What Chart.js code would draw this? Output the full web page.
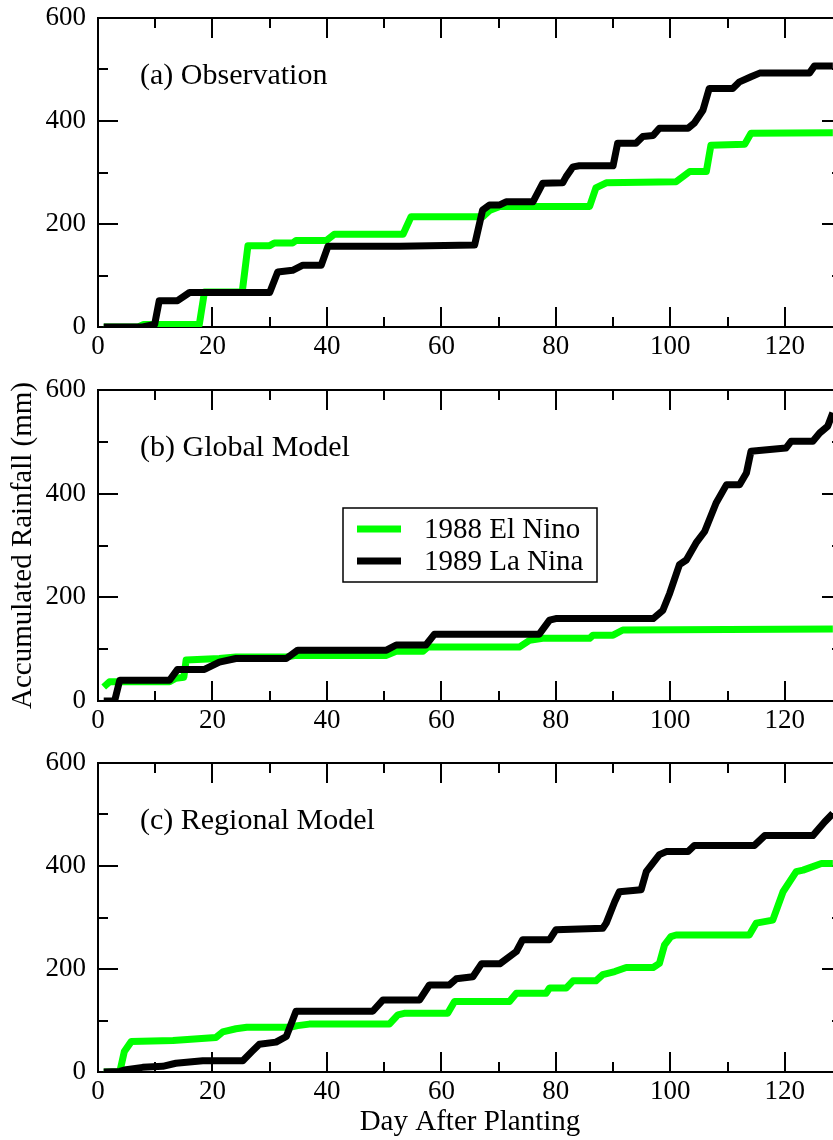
<!DOCTYPE html>
<html>
<head>
<meta charset="utf-8">
<title>Accumulated Rainfall</title>
<script src="https://cdn.jsdelivr.net/npm/chart.js@4.4.1/dist/chart.umd.min.js"></script>
<style>
  html, body { margin: 0; padding: 0; background: #fff; overflow: hidden; }
  body { width: 833px; height: 1140px; position: relative; }
  canvas { position: absolute; left: 0; }
</style>
</head>
<body>
<canvas id="panelA"></canvas>
<canvas id="panelB"></canvas>
<canvas id="panelC"></canvas>
<script>
"use strict";

const seriesNames = ["1988 El Nino", "1989 La Nina"];
const panelTitles = ["(a) Observation", "(b) Global Model", "(c) Regional Model"];
const xTickValues = [0, 20, 40, 60, 80, 100, 120];
const yTickValues = [0, 200, 400, 600];

// (a) observation
const obsElNinoDays = [1, 7, 8, 12, 17.7, 18.6, 25.2, 26.2, 30, 30.8, 34, 34.6, 39.9, 41.3, 53.3, 54.7, 67.2, 68.4, 70.2, 85.9, 87, 88.8, 101, 103.4, 106.3, 107.1, 113, 114.1, 128.4];
const obsElNinoRain = [0, 0, 5, 5, 5, 68, 68, 158, 158, 163, 163, 168, 168, 180, 180, 214, 214, 226, 234, 234, 270, 280, 282, 302, 302, 353, 355, 376, 377];
const obsLaNinaDays = [1, 7.8, 9.9, 10.7, 13.9, 16, 30, 31.4, 34, 35.8, 39, 40.2, 52.7, 65.8, 67.2, 68.4, 70.2, 71.3, 76, 77.7, 81.2, 81.8, 83, 84.1, 90, 90.8, 94, 95.2, 97, 98.1, 103.1, 104.2, 105.7, 106.8, 110.9, 112.1, 114.1, 115.6, 124.3, 125.2, 128.4];
const obsLaNinaRain = [0, 0, 5, 51, 51, 67, 67, 107, 110, 120, 120, 157, 157, 159, 227, 237, 237, 243, 243, 279, 280, 292, 311, 313, 313, 357, 357, 370, 372, 386, 386, 396, 421, 463, 463, 476, 486, 493, 493, 507, 507];

// (b) global model
const globElNinoDays = [1, 2, 12.5, 13.6, 15, 15.4, 21.2, 24.1, 32.9, 34.6, 50.4, 52.1, 56.8, 57.6, 73.6, 75.4, 77.7, 85.9, 86.5, 90, 91.7, 128.4];
const globElNinoRain = [27, 37, 37, 44, 46, 79, 82, 85, 85, 88, 88, 96, 96, 104, 104, 117, 121, 121, 127, 127, 137, 139];
const globLaNinaDays = [1, 2.9, 3.8, 12.5, 13.9, 18.6, 21.2, 24.1, 32.9, 34.9, 50.4, 52.1, 57.3, 58.8, 77.1, 78.9, 80, 97, 98.7, 99.9, 101.6, 102.8, 104.5, 106, 108, 109.8, 112.1, 113.3, 114.1, 120.2, 121.1, 124.9, 126.1, 127.5, 128.4];
const globLaNinaRain = [0, 0, 40, 40, 61, 61, 75, 82, 82, 98, 98, 108, 108, 129, 129, 156, 159, 159, 175, 208, 263, 272, 305, 327, 382, 417, 417, 440, 482, 488, 501, 501, 517, 530, 556];

// (c) regional model
const regElNinoDays = [1, 3.8, 4.6, 5.8, 13.1, 20.6, 21.8, 24.1, 26, 33.5, 34.9, 36.9, 50.9, 52.4, 53.5, 61.1, 62.3, 71.9, 73.1, 78.3, 78.9, 81.8, 83, 87, 88.2, 90.3, 92.3, 97, 98.1, 99, 100.1, 101, 113.8, 115, 117.9, 119.7, 122, 123.2, 126.4, 128.4];
const regElNinoRain = [0, 0, 40, 59, 61, 67, 78, 84, 87, 87, 90, 93, 93, 111, 114, 114, 137, 137, 153, 153, 163, 163, 177, 177, 189, 195, 203, 203, 211, 247, 263, 266, 266, 289, 295, 350, 389, 392, 405, 405];
const regLaNinaDays = [1, 3.8, 4.9, 7.8, 11.3, 13.6, 18.3, 25.3, 27, 28.2, 31.1, 32.9, 34.6, 48, 49.8, 56.2, 57.9, 61.4, 62.6, 65.5, 67, 70.2, 73.1, 74.2, 78.9, 80, 88.2, 88.8, 90.3, 91.1, 94.9, 95.8, 98.1, 99.3, 103.1, 104.2, 114.7, 116.5, 124.9, 127, 128.4];
const regLaNinaRain = [0, 1, 4.5, 9, 11, 17, 22, 22, 41, 54, 58, 69, 118, 118, 140, 140, 169, 169, 181, 185, 210, 210, 234, 257, 257, 276, 279, 289, 331, 350, 354, 389, 422, 428, 428, 440, 440, 459, 459, 486, 502];

const SERIF = "'Liberation Serif', 'Times New Roman', serif";
const GREEN = "#00ff00";
const BLACK = "#000000";

Chart.defaults.font.family = SERIF;
Chart.defaults.color = "#000";

function toPoints(days, rain) {
  return days.map((d, i) => ({ x: d, y: rain[i] }));
}

// inward ticks on all four sides plus the box
const frameTicks = {
  id: "frameTicks",
  beforeDatasetsDraw(chart) {
    const { ctx, chartArea: a, scales: { x, y } } = chart;
    ctx.save();
    ctx.strokeStyle = "#000";
    ctx.lineWidth = 2;
    ctx.strokeRect(a.left, a.top, a.right - a.left, a.bottom - a.top);
    ctx.beginPath();
    for (let d = 0; d <= x.max; d += 10) {
      const px = Math.round(x.getPixelForValue(d));
      const len = d % 20 === 0 ? 20 : 10;
      ctx.moveTo(px, a.bottom); ctx.lineTo(px, a.bottom - len);
      ctx.moveTo(px, a.top); ctx.lineTo(px, a.top + len);
    }
    for (let v = 0; v <= y.max; v += 100) {
      const py = Math.round(y.getPixelForValue(v));
      const len = v % 200 === 0 ? 20 : 10;
      ctx.moveTo(a.left, py); ctx.lineTo(a.left + len, py);
      ctx.moveTo(a.right, py); ctx.lineTo(a.right - len, py);
    }
    ctx.stroke();
    ctx.restore();
  },
  afterDraw(chart) {
    const opts = chart.options.plugins.frameTicks;
    const { ctx, chartArea: a } = chart;
    ctx.save();
    ctx.font = "30px " + SERIF;
    ctx.fillStyle = "#000";
    ctx.textBaseline = "middle";
    ctx.fillText(opts.title, a.left + 42, a.top + 58);

    if (opts.legend) {
      const bx = a.left + 245, by = a.top + 118, bw = 254, bh = 74;
      ctx.lineWidth = 1.5;
      ctx.strokeStyle = "#000";
      ctx.strokeRect(bx, by, bw, bh);
      ctx.font = "29px " + SERIF;
      chart.data.datasets.forEach((ds, i) => {
        const ly = by + 21 + i * 32;
        ctx.strokeStyle = ds.borderColor;
        ctx.lineWidth = 7;
        ctx.beginPath();
        ctx.moveTo(bx + 14, ly);
        ctx.lineTo(bx + 58, ly);
        ctx.stroke();
        ctx.fillText(ds.label, bx + 81, ly + 1);
      });
    }
    ctx.restore();
  }
};

function makePanel(id, top, height, xAxisHeight, title, green, black, opts) {
  const canvas = document.getElementById(id);
  canvas.width = 842;
  canvas.height = height;
  canvas.style.top = top + "px";
  canvas.style.width = "842px";
  canvas.style.height = height + "px";

  return new Chart(canvas.getContext("2d"), {
    type: "line",
    data: {
      datasets: [
        {
          label: seriesNames[0],
          data: green,
          borderColor: GREEN,
          borderWidth: 7,
          pointRadius: 0,
          borderJoinStyle: "round",
          tension: 0,
          order: 1
        },
        {
          label: seriesNames[1],
          data: black,
          borderColor: BLACK,
          borderWidth: 7,
          pointRadius: 0,
          borderJoinStyle: "round",
          tension: 0,
          order: 0
        }
      ]
    },
    options: {
      responsive: false,
      animation: false,
      layout: { padding: { top: 18, right: 0, left: 0, bottom: 0 } },
      plugins: {
        legend: { display: false },
        tooltip: { enabled: false },
        frameTicks: { title: title, legend: !!opts.legend }
      },
      scales: {
        x: {
          type: "linear",
          min: 0,
          max: 130,
          grid: { display: false, drawTicks: false },
          border: { display: false },
          afterBuildTicks: s => { s.ticks = xTickValues.map(v => ({ value: v })); },
          afterFit: s => {
            s.height = xAxisHeight;
            s.paddingLeft = 0;
            s.paddingRight = 0;
          },
          ticks: {
            padding: 4,
            autoSkip: false,
            maxRotation: 0,
            font: { size: 27 }
          },
          title: {
            display: !!opts.xTitle,
            text: "Day After Planting",
            font: { size: 29 },
            padding: { top: 0, bottom: 0 }
          }
        },
        y: {
          min: 0,
          max: 600,
          grid: { display: false, drawTicks: false },
          border: { display: false },
          afterBuildTicks: s => { s.ticks = yTickValues.map(v => ({ value: v })); },
          afterFit: s => {
            s.width = 98;
            s.paddingTop = 0;
            s.paddingBottom = 0;
          },
          ticks: {
            padding: 12,
            font: { size: 27 }
          },
          title: {
            display: !!opts.yTitle,
            text: "Accumulated Rainfall (mm)",
            font: { size: 29 },
            padding: { top: 6, bottom: 0 }
          }
        }
      }
    },
    plugins: [frameTicks]
  });
}

makePanel("panelA", 0, 370, 43, panelTitles[0],
  toPoints(obsElNinoDays, obsElNinoRain), toPoints(obsLaNinaDays, obsLaNinaRain), {});
makePanel("panelB", 372, 372, 43, panelTitles[1],
  toPoints(globElNinoDays, globElNinoRain), toPoints(globLaNinaDays, globLaNinaRain), { legend: true, yTitle: true });
makePanel("panelC", 745, 395, 68, panelTitles[2],
  toPoints(regElNinoDays, regElNinoRain), toPoints(regLaNinaDays, regLaNinaRain), { xTitle: true });
</script>
</body>
</html>
